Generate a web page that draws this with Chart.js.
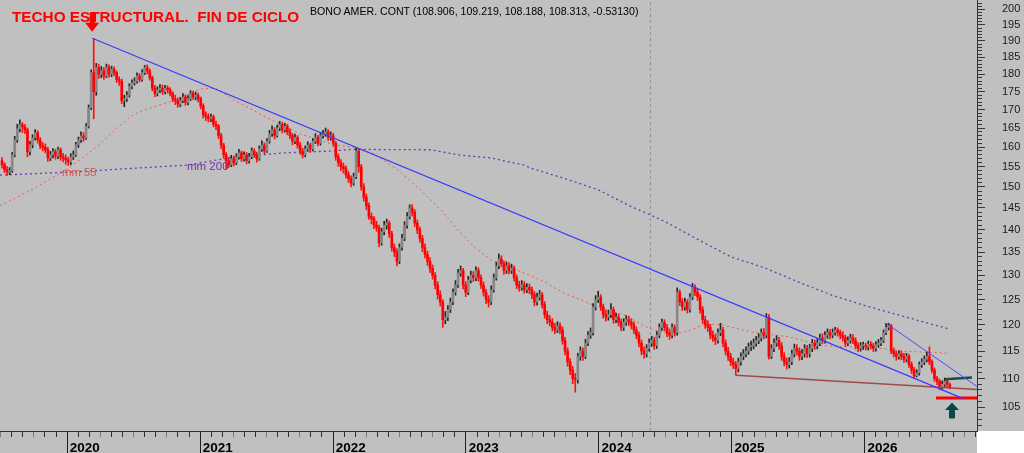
<!DOCTYPE html>
<html>
<head>
<meta charset="utf-8">
<title>BONO AMER. CONT</title>
<script src="https://cdn.jsdelivr.net/npm/chart.js@4.4.1/dist/chart.umd.min.js"></script>
<style>
  html, body { margin: 0; padding: 0; background: #fff; }
  #wrap { position: relative; width: 1024px; height: 453px; overflow: hidden; }
  #wrap canvas { position: absolute; left: 0; top: 0; }
  .lbl { position: absolute; white-space: pre; line-height: 1; font-family: "Liberation Sans", Arial, sans-serif; }
  #titulo { left: 12px; top: 8.5px; font-size: 15.3px; font-weight: bold; color: #ff0000; }
  #bono { left: 310px; top: 5.6px; font-size: 10.6px; color: #000; }
  #mm55 { left: 62px; top: 166.8px; font-size: 11.3px; color: #e05048; }
  #mm200 { left: 187px; top: 160.8px; font-size: 11.5px; color: #7030a0; }
</style>
</head>
<body>
<div id="wrap">
  <canvas id="grafico" width="1024" height="453"></canvas>
  <div class="lbl" id="titulo">TECHO ESTRUCTURAL.  FIN DE CICLO</div>
  <div class="lbl" id="bono">BONO AMER. CONT (108.906, 109.219, 108.188, 108.313, -0.53130)</div>
  <div class="lbl" id="mm55">mm 55</div>
  <div class="lbl" id="mm200">mm 200</div>
</div>
<script>
// Velas semanales (apertura, maximo, minimo, cierre)
var apertura = [
156.5,155.5,154.2,153.7,154.0,158.0,161.9,164.8,165.9,165.3,
164.5,158.8,160.6,162.4,163.7,161.9,160.3,160.0,159.3,157.2,
158.0,158.8,157.7,159.3,157.5,157.2,156.7,156.2,157.5,158.0,
160.6,161.9,162.9,162.4,165.5,170.5,180.5,175.0,182.0,180.0,
181.0,179.5,182.0,180.0,181.5,180.5,178.5,178.0,172.5,173.0,
174.0,176.5,177.5,178.0,179.5,178.5,180.5,182.0,181.0,179.0,
176.0,174.5,175.5,176.0,175.0,176.0,175.5,174.5,173.0,172.5,
171.5,172.5,173.5,172.0,173.0,174.5,173.5,174.0,173.0,171.0,
168.5,168.0,167.5,168.0,166.0,165.5,163.0,160.5,158.0,156.5,
155.5,157.0,156.0,157.5,158.5,157.0,158.0,156.5,157.5,159.0,
158.0,157.0,159.5,160.5,159.0,161.5,163.5,164.5,163.0,165.0,
166.0,164.5,165.5,164.0,163.0,161.5,162.5,160.5,159.0,158.0,
159.5,160.5,159.5,161.5,162.5,161.0,163.0,163.5,164.0,162.5,
163.0,161.0,157.5,156.0,155.0,154.5,153.0,152.0,151.0,152.5,
159.0,155.0,150.0,147.5,145.5,143.0,142.5,141.0,140.5,137.0,
139.5,141.0,141.5,139.0,136.0,135.0,133.0,136.0,138.0,141.0,
143.0,145.0,144.0,141.5,140.0,138.0,136.0,134.5,133.0,131.5,
130.0,128.0,126.0,124.5,121.0,121.5,123.0,124.5,126.5,128.0,
130.5,131.0,128.0,126.5,129.0,130.0,129.5,131.0,129.5,128.0,
126.5,125.0,124.5,127.0,129.5,132.0,133.5,132.5,131.0,132.0,
131.0,131.5,129.5,128.0,127.5,128.0,127.0,127.5,127.0,126.0,
124.5,125.5,126.0,124.0,122.0,121.0,120.5,119.5,119.0,119.8,
119.0,117.0,115.0,113.0,111.5,110.0,109.8,114.0,115.0,114.0,
116.5,118.0,118.5,123.5,125.0,125.5,123.5,122.0,121.5,122.0,
123.0,121.0,121.5,120.5,119.5,120.5,121.0,120.5,120.0,119.0,
118.0,116.5,115.0,114.5,115.5,116.5,117.0,116.0,118.0,119.5,
120.5,119.5,118.5,118.0,119.5,118.5,126.5,124.5,123.5,124.5,
123.0,125.5,127.5,126.5,125.5,123.0,121.0,120.0,119.5,118.0,
117.5,117.0,118.5,119.0,116.5,115.0,114.0,113.0,112.5,111.8,
113.0,114.0,114.5,115.0,115.8,116.0,116.5,117.0,117.5,118.5,
118.0,121.5,114.0,115.5,116.5,117.0,116.0,114.0,113.0,112.5,
113.0,114.5,115.5,115.0,114.0,114.5,115.5,114.5,115.5,116.5,
116.0,116.5,117.5,117.0,118.0,118.5,118.0,118.5,119.0,118.5,
118.0,117.5,116.5,117.0,117.5,117.0,116.0,115.5,116.0,116.0,
115.8,116.3,116.0,115.5,116.2,116.5,117.0,118.5,119.5,119.8,
115.0,114.5,114.0,114.5,114.0,113.5,114.0,112.5,111.5,110.5,
111.0,112.5,113.0,113.5,114.0,113.0,111.5,110.0,109.5,108.5,
109.0,109.5,108.906
];
var maximo = [
157.3,156.0,155.0,154.8,158.6,162.8,166.0,167.2,166.5,166.0,
165.0,161.5,163.2,164.6,164.3,162.5,161.2,160.8,159.9,158.9,
159.6,159.4,160.0,159.8,158.4,158.0,157.4,158.3,159.0,161.2,
162.6,164.0,163.8,166.2,171.3,181.3,190.8,183.2,183.0,182.3,
182.0,183.0,182.8,182.4,182.2,181.0,179.3,178.6,174.0,175.0,
177.3,178.4,179.0,180.4,180.2,181.4,182.6,182.8,181.6,179.5,
176.8,176.4,177.0,176.9,176.8,176.7,176.2,175.0,174.0,173.2,
173.4,174.5,174.1,173.9,175.3,175.2,174.9,174.6,173.5,171.6,
169.4,168.9,168.8,168.5,166.9,166.0,163.6,161.0,158.6,157.4,
157.9,157.7,158.3,159.4,159.0,158.8,158.6,158.4,159.8,159.6,
158.7,160.3,161.6,161.1,162.2,164.4,165.6,165.1,165.8,166.8,
166.6,166.3,166.0,164.8,163.6,163.4,163.0,161.2,159.7,160.3,
161.4,161.0,162.3,163.5,163.1,163.8,164.4,165.0,164.6,164.0,
163.6,161.5,158.2,156.8,155.9,155.2,153.8,152.7,153.4,159.8,
159.5,155.6,150.8,148.3,146.2,143.8,143.0,141.9,141.0,140.3,
141.9,142.4,142.0,139.6,136.8,135.7,136.8,138.9,141.8,143.9,
145.7,145.8,144.6,142.2,140.6,138.7,136.8,135.2,133.8,132.2,
130.6,128.7,126.8,125.0,122.6,123.8,125.3,127.2,128.9,131.3,
132.0,131.5,128.7,129.8,130.9,130.8,131.8,131.6,130.1,128.6,
127.1,125.8,127.8,130.3,132.8,134.6,134.2,133.1,132.9,132.7,
132.4,132.0,130.1,128.8,128.9,128.7,128.3,128.2,127.6,126.6,
126.3,126.9,126.5,124.6,122.7,121.8,121.2,120.3,120.6,120.4,
119.6,117.6,115.6,113.6,112.2,110.9,114.6,115.8,115.6,117.2,
118.7,119.4,124.2,125.8,126.7,126.0,124.1,122.8,122.9,124.2,
123.5,122.3,122.1,121.1,121.2,121.8,121.7,121.2,120.6,119.6,
118.6,117.1,115.8,116.2,117.3,117.8,117.6,118.7,120.2,121.1,
121.0,120.1,119.2,120.2,120.0,127.4,127.0,125.2,125.3,125.0,
126.2,128.3,128.0,127.1,126.0,123.6,121.7,120.8,120.1,118.8,
118.2,119.2,120.3,119.5,117.1,115.7,114.6,113.7,113.1,113.7,
114.7,115.3,115.8,116.5,116.9,117.3,117.8,118.3,119.2,119.3,
122.2,122.0,116.2,117.3,117.9,117.6,116.6,114.7,113.7,113.8,
115.2,116.3,116.2,115.6,115.3,116.2,116.1,116.3,117.2,117.1,
117.3,118.2,118.3,118.7,119.2,119.1,119.2,119.5,119.4,119.0,
118.7,118.0,117.7,118.2,118.1,117.5,116.6,116.6,116.7,116.5,
116.9,116.8,116.5,116.8,117.2,117.6,119.0,120.3,120.3,120.1,
115.6,115.0,115.1,115.0,114.6,114.6,114.4,113.0,112.0,111.6,
113.0,113.6,114.1,114.8,115.8,113.4,111.9,110.4,109.9,109.6,
110.1,109.9,109.219
];
var minimo = [
154.6,153.5,152.8,153.0,153.6,157.5,161.2,164.0,163.8,163.5,
157.5,158.0,159.8,161.8,161.0,159.6,159.0,158.5,156.3,156.5,
157.2,156.9,157.0,156.6,156.2,155.6,155.3,155.5,156.8,157.6,
159.9,161.2,161.5,162.0,165.0,170.0,167.5,174.0,178.8,179.0,
178.5,179.0,179.2,179.3,179.6,177.6,176.8,171.6,170.8,172.3,
173.5,175.8,176.9,177.4,177.8,178.0,179.9,180.1,178.3,175.2,
173.6,173.8,174.7,174.2,174.4,174.6,173.8,172.2,171.4,170.6,
170.8,171.9,171.2,171.3,172.5,172.8,172.7,172.1,170.2,167.7,
167.0,166.6,166.7,165.3,164.6,162.2,159.6,157.1,154.5,154.8,
155.0,155.2,155.5,156.9,156.3,156.4,155.7,155.9,157.0,157.3,
156.1,156.6,158.9,158.3,158.6,161.0,162.8,162.1,162.6,164.3,
163.7,163.9,163.2,162.1,160.6,160.9,159.7,158.2,157.2,157.5,
158.9,158.7,159.0,160.9,160.3,160.5,162.3,162.8,161.7,161.8,
160.2,156.6,155.1,154.0,153.4,152.2,151.1,150.0,150.4,152.0,
153.6,149.2,146.6,144.6,142.3,141.3,140.2,139.6,136.1,136.5,
138.8,140.1,138.2,135.2,134.0,132.0,132.5,135.4,137.5,140.3,
142.4,143.1,140.7,139.1,137.2,135.1,133.7,132.1,130.6,129.2,
127.2,125.1,123.7,119.5,120.2,120.8,122.4,124.0,125.9,127.5,
129.8,127.2,125.6,126.0,128.4,128.7,128.9,128.8,127.3,125.7,
124.2,123.5,124.0,126.5,129.0,131.4,131.8,130.2,130.4,130.3,
130.4,128.8,127.2,126.7,126.9,126.3,126.4,126.2,125.2,123.7,
123.9,124.9,123.3,121.3,120.2,119.8,118.8,118.3,118.5,118.3,
116.3,114.3,112.2,110.7,109.1,107.6,109.2,113.3,113.3,113.6,
116.0,117.4,118.0,122.9,124.4,122.8,121.3,120.7,120.9,121.4,
120.3,120.4,119.8,118.8,118.9,119.9,119.8,119.2,118.3,117.3,
115.8,114.3,113.7,113.9,115.0,115.9,115.3,115.5,117.5,118.9,
118.8,117.7,117.2,117.5,117.8,118.0,123.8,122.8,122.9,122.3,
122.5,125.0,125.8,124.8,122.3,120.3,119.3,118.7,117.3,116.8,
116.2,116.5,117.9,115.8,114.3,113.3,112.3,111.8,110.6,111.2,
112.4,113.4,113.9,114.4,115.1,115.4,115.9,116.4,116.9,117.3,
117.5,113.5,113.6,114.9,115.9,115.3,113.3,112.3,111.7,111.9,
112.5,113.9,114.3,113.3,113.4,113.9,113.8,113.9,114.9,115.3,
115.4,116.0,116.4,116.5,117.4,117.3,117.5,118.0,117.8,117.3,
116.9,115.9,116.0,116.5,116.4,115.4,114.9,115.0,115.3,115.2,
115.2,115.4,114.9,115.0,115.7,116.0,116.6,118.1,119.0,114.5,
113.9,113.3,113.5,113.4,112.9,113.0,112.0,110.9,110.0,110.3,
110.6,112.0,112.5,113.0,112.5,111.0,109.5,108.9,108.0,108.1,
108.6,108.4,108.188
];
var cierre = [
155.5,154.2,153.7,154.0,158.0,161.9,164.8,165.9,165.3,164.5,
158.8,160.6,162.4,163.7,161.9,160.3,160.0,159.3,157.2,158.0,
158.8,157.7,159.3,157.5,157.2,156.7,156.2,157.5,158.0,160.6,
161.9,162.9,162.4,165.5,170.5,180.5,175.0,182.0,180.0,181.0,
179.5,182.0,180.0,181.5,180.5,178.5,178.0,172.5,173.0,174.0,
176.5,177.5,178.0,179.5,178.5,180.5,182.0,181.0,179.0,176.0,
174.5,175.5,176.0,175.0,176.0,175.5,174.5,173.0,172.5,171.5,
172.5,173.5,172.0,173.0,174.5,173.5,174.0,173.0,171.0,168.5,
168.0,167.5,168.0,166.0,165.5,163.0,160.5,158.0,156.5,155.5,
157.0,156.0,157.5,158.5,157.0,158.0,156.5,157.5,159.0,158.0,
157.0,159.5,160.5,159.0,161.5,163.5,164.5,163.0,165.0,166.0,
164.5,165.5,164.0,163.0,161.5,162.5,160.5,159.0,158.0,159.5,
160.5,159.5,161.5,162.5,161.0,163.0,163.5,164.0,162.5,163.0,
161.0,157.5,156.0,155.0,154.5,153.0,152.0,151.0,152.5,159.0,
155.0,150.0,147.5,145.5,143.0,142.5,141.0,140.5,137.0,139.5,
141.0,141.5,139.0,136.0,135.0,133.0,136.0,138.0,141.0,143.0,
145.0,144.0,141.5,140.0,138.0,136.0,134.5,133.0,131.5,130.0,
128.0,126.0,124.5,121.0,121.5,123.0,124.5,126.5,128.0,130.5,
131.0,128.0,126.5,129.0,130.0,129.5,131.0,129.5,128.0,126.5,
125.0,124.5,127.0,129.5,132.0,133.5,132.5,131.0,132.0,131.0,
131.5,129.5,128.0,127.5,128.0,127.0,127.5,127.0,126.0,124.5,
125.5,126.0,124.0,122.0,121.0,120.5,119.5,119.0,119.8,119.0,
117.0,115.0,113.0,111.5,110.0,109.8,114.0,115.0,114.0,116.5,
118.0,118.5,123.5,125.0,125.5,123.5,122.0,121.5,122.0,123.0,
121.0,121.5,120.5,119.5,120.5,121.0,120.5,120.0,119.0,118.0,
116.5,115.0,114.5,115.5,116.5,117.0,116.0,118.0,119.5,120.5,
119.5,118.5,118.0,119.5,118.5,126.5,124.5,123.5,124.5,123.0,
125.5,127.5,126.5,125.5,123.0,121.0,120.0,119.5,118.0,117.5,
117.0,118.5,119.0,116.5,115.0,114.0,113.0,112.5,111.8,113.0,
114.0,114.5,115.0,115.8,116.0,116.5,117.0,117.5,118.5,118.0,
121.5,114.0,115.5,116.5,117.0,116.0,114.0,113.0,112.5,113.0,
114.5,115.5,115.0,114.0,114.5,115.5,114.5,115.5,116.5,116.0,
116.5,117.5,117.0,118.0,118.5,118.0,118.5,119.0,118.5,118.0,
117.5,116.5,117.0,117.5,117.0,116.0,115.5,116.0,116.0,115.8,
116.3,116.0,115.5,116.2,116.5,117.0,118.5,119.5,119.8,115.0,
114.5,114.0,114.5,114.0,113.5,114.0,112.5,111.5,110.5,111.0,
112.5,113.0,113.5,114.0,113.0,111.5,110.0,109.5,108.5,109.0,
109.5,109.0,108.313
];

// fecha (año decimal) de la primera vela; una vela por semana
var primeraSemana = 2019.51;
function fechaVela(i) { return primeraSemana + i * 7 / 365.25; }

// medias moviles [fecha, precio]
var media55 = [
[2019.495,145.5],[2019.744,149.5],[2020.0,154.4],[2020.121,157.4],[2020.249,160.8],
[2020.377,165.1],[2020.497,168.6],[2020.626,170.5],[2020.776,172.2],[2021.003,175.8],
[2021.116,176.0],[2021.251,172.7],[2021.508,167.7],[2021.756,163.4],[2022.005,160.6],
[2022.148,159.9],[2022.306,158.3],[2022.487,154.2],[2022.683,148.6],[2022.811,144.5],
[2022.94,139.9],[2023.06,136.1],[2023.188,133.3],[2023.317,131.8],[2023.437,130.5],
[2023.565,129.0],[2023.739,126.3],[2023.995,123.5],[2024.191,121.9],[2024.372,119.4],
[2024.545,118.0],[2024.696,119.0],[2024.794,120.2],[2024.922,120.0],[2025.148,118.6],
[2025.427,117.7],[2025.676,116.0],[2025.879,115.8],[2026.128,115.5],[2026.279,115.0],
[2026.633,114.6]
];
var media200 = [
[2019.495,152.9],[2020.0,153.6],[2020.497,154.6],[2020.905,155.4],[2021.251,157.4],
[2021.628,158.5],[2022.005,159.0],[2022.133,159.4],[2022.736,159.3],[2022.94,158.0],
[2023.188,157.2],[2023.437,155.4],[2023.49,154.6],[2023.739,152.1],[2023.995,149.3],
[2024.244,145.3],[2024.492,141.9],[2024.749,137.7],[2024.997,133.9],[2025.246,131.6],
[2025.502,128.6],[2025.751,125.9],[2026.0,123.8],[2026.256,121.9],[2026.633,119.2]
];

// lineas dibujadas a mano [fecha, precio]
var techo = [[2020.19,190.8],[2026.746,106.45]];
var canalSup = [[2026.16,120.3],[2026.844,108.6]];
var soporte = [[2025.03,110.6],[2026.844,108.05]];
var lineaRoja = [[2026.535,106.6],[2026.844,106.6]];
var lineaVerde = [[2026.603,109.9],[2026.806,110.2]];
var cursorFecha = 2024.387;

var flechas = [
  { fecha: 2020.188, precio: 192.8, sentido: 'abajo', color: '#ff0000' },
  { fecha: 2026.656, precio: 105.8, sentido: 'arriba', color: '#0b4848' }
];

var anios = [2020, 2021, 2022, 2023, 2024, 2025, 2026];
var preciosEje = [105,110,115,120,125,130,135,140,145,150,155,160,165,170,175,180,185,190,195,200];
var xMin = 2019.495, xMax = 2026.844;
var yMin = 101.05, yMax = 203.0;

function puntos(lista) {
  return lista.map(function (p) { return { x: p[0], y: p[1] }; });
}
function esAlcista(i) { return cierre[i] >= apertura[i]; }

var fondo = {
  id: 'fondo',
  beforeDraw: function (chart) {
    var ctx = chart.ctx, a = chart.chartArea;
    ctx.save();
    ctx.fillStyle = '#c0c0c0';
    ctx.fillRect(0, 0, chart.width, chart.height);
    ctx.fillStyle = '#ffffff';
    ctx.fillRect(a.right, a.bottom, chart.width - a.right, chart.height - a.bottom);
    ctx.restore();
  }
};

var dibujaFlechas = {
  id: 'flechas',
  afterDatasetsDraw: function (chart) {
    var ctx = chart.ctx;
    var sx = chart.scales.x, sy = chart.scales.y;
    ctx.save();
    flechas.forEach(function (f) {
      var x = sx.getPixelForValue(f.fecha);
      var y = sy.getPixelForValue(f.precio);
      var abajo = f.sentido === 'abajo';
      var d = abajo ? -1 : 1;
      var cab = abajo ? 9 : 7.5;
      var anchoCab = 7;
      var anchoAsta = abajo ? 2.5 : 3;
      var largo = abajo ? 19 : 16;
      ctx.fillStyle = f.color;
      ctx.beginPath();
      ctx.moveTo(x, y);
      ctx.lineTo(x + anchoCab, y + d * cab);
      ctx.lineTo(x + anchoAsta, y + d * cab);
      ctx.lineTo(x + anchoAsta, y + d * largo);
      ctx.lineTo(x - anchoAsta, y + d * largo);
      ctx.lineTo(x - anchoAsta, y + d * cab);
      ctx.lineTo(x - anchoCab, y + d * cab);
      ctx.closePath();
      ctx.fill();
    });
    ctx.restore();
  }
};

function linea(datos, color, ancho, trazo, orden) {
  return {
    type: 'line',
    data: puntos(datos),
    borderColor: color,
    borderWidth: ancho,
    borderDash: trazo,
    pointRadius: 0,
    fill: false,
    order: orden,
    xAxisID: 'x',
    yAxisID: 'y'
  };
}

Chart.defaults.font.family = '"Liberation Sans", Arial, sans-serif';

var mechas = {
  type: 'bar',
  data: cierre.map(function (c, i) { return { x: fechaVela(i), y: [minimo[i], maximo[i]] }; }),
  backgroundColor: function (ctx) { return esAlcista(ctx.dataIndex) ? '#262626' : '#ff1010'; },
  barThickness: 1,
  grouped: false,
  order: 4,
  xAxisID: 'x',
  yAxisID: 'y'
};
var cuerpos = {
  type: 'bar',
  data: cierre.map(function (c, i) { return { x: fechaVela(i), y: [apertura[i], c] }; }),
  backgroundColor: function (ctx) { return esAlcista(ctx.dataIndex) ? '#878787' : '#ff0000'; },
  barThickness: 2,
  minBarLength: 1,
  grouped: false,
  order: 3,
  xAxisID: 'x',
  yAxisID: 'y'
};

// marcas de mes cortas y de año largas en el mismo eje
function esEnero(v) { return Math.abs(v - Math.round(v)) < 0.001; }
function mesDe(v) { return Math.round((v - Math.floor(v + 0.001)) * 12); }

var config = {
  type: 'line',
  data: {
    datasets: [
      linea([[cursorFecha, yMin], [cursorFecha, yMax]], '#8c8c8c', 1, [3, 3], 7),
      linea(media200, '#7038b0', 1.3, [2, 3], 6),
      linea(media55, '#f05a50', 1, [2, 3], 5),
      mechas,
      cuerpos,
      linea(soporte, '#a04a4a', 1.5, [], 2),
      linea(techo, '#3a3aff', 1.2, [], 1),
      linea(canalSup, '#4a4aff', 1, [], 1),
      linea(lineaRoja, '#ff0000', 3, [], 1),
      linea(lineaVerde, '#164f4a', 2.5, [], 1)
    ]
  },
  options: {
    responsive: false,
    animation: false,
    events: [],
    layout: { padding: 0 },
    plugins: { legend: { display: false }, tooltip: { enabled: false } },
    scales: {
      x: {
        type: 'linear', position: 'bottom',
        min: xMin, max: xMax, offset: false, bounds: 'data',
        grid: {
          drawOnChartArea: false, offset: false, tickLength: 22,
          tickColor: function (ctx) {
            var v = ctx.tick ? ctx.tick.value : 0;
            if (esEnero(v)) return '#202020';
            return (mesDe(v) % 3 === 0) ? '#7c7c7c' : '#303030';
          },
          tickBorderDash: function (ctx) {
            var v = ctx.tick ? ctx.tick.value : 0;
            return esEnero(v) ? [] : [5, 40];
          }
        },
        border: { display: true, color: '#303030' },
        ticks: {
          align: 'start', padding: -13, autoSkip: false, maxRotation: 0,
          color: '#000', font: { size: 13.5, weight: 'bold' },
          callback: function (v) { return esEnero(v) ? '\u2009' + Math.round(v) : ''; }
        },
        afterBuildTicks: function (s) {
          var t = [];
          anios.concat([2019]).sort().forEach(function (a) {
            for (var m = 0; m < 12; m++) {
              var v = a + m / 12;
              if (v >= xMin && v <= xMax) t.push({ value: v });
            }
          });
          s.ticks = t;
        },
        afterFit: function (s) { s.height = 22; s.paddingLeft = 0; s.paddingRight = 0; }
      },
      y: {
        type: 'logarithmic', position: 'right',
        min: yMin, max: yMax, bounds: 'data',
        grid: {
          drawOnChartArea: false, tickLength: 8, tickColor: '#383838',
          tickBorderDash: function (ctx) {
            var v = ctx.tick ? ctx.tick.value : 0;
            return (v % 5 === 0) ? [] : [4, 20];
          }
        },
        border: { display: true, color: '#303030' },
        ticks: {
          padding: 17, autoSkip: false, color: '#1a1a1a', font: { size: 11 },
          callback: function (v) { return (v % 5 === 0 && preciosEje.indexOf(v) >= 0) ? String(v) : ''; }
        },
        afterBuildTicks: function (s) {
          var t = [];
          for (var v = 102; v <= 202; v++) t.push({ value: v });
          s.ticks = t;
        },
        afterFit: function (s) { s.width = 47; s.paddingTop = 0; s.paddingBottom = 0; }
      }
    }
  },
  plugins: [fondo, dibujaFlechas]
};

var grafico = new Chart(document.getElementById('grafico'), config);
</script>
</body>
</html>
